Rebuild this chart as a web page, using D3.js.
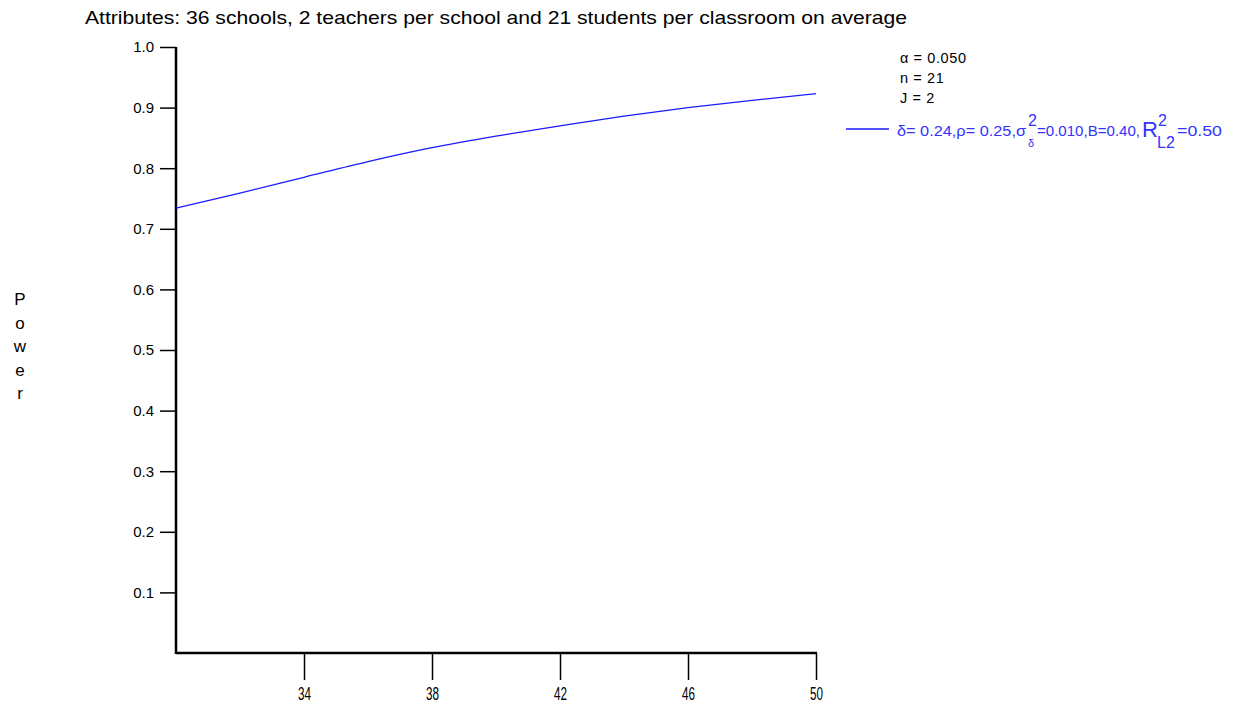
<!DOCTYPE html>
<html>
<head>
<meta charset="utf-8">
<script src="https://cdn.jsdelivr.net/npm/d3@7"></script>
<style>
  html, body { margin: 0; padding: 0; background: #fff; }
  svg { display: block; font-family: "Liberation Sans", Arial, sans-serif; }
</style>
</head>
<body>
<svg id="chart" width="1233" height="709"></svg>
<script>
// ---- data ----
const schools = [30, 32, 34, 36, 38, 40, 42, 44, 46, 48, 50];
const power   = [0.734, 0.759, 0.785, 0.811, 0.834, 0.853, 0.870, 0.886, 0.900, 0.912, 0.923];
const yTicks  = [0.1, 0.2, 0.3, 0.4, 0.5, 0.6, 0.7, 0.8, 0.9, 1.0];
const xTicks  = [34, 38, 42, 46, 50];
const titleText = "Attributes: 36 schools, 2 teachers per school and 21 students per classroom on average";
const yLabel = "Power";
const infoLines = ["\u03b1 = 0.050", "n = 21", "J = 2"];

const FONT = "Liberation Sans, Arial, sans-serif";
const svg = d3.select("#chart");
const x = d3.scaleLinear().domain([30, 50]).range([176, 816]);
const y = d3.scaleLinear().domain([0, 1]).range([653, 47]);

// title
svg.append("text").attr("x", 85).attr("y", 24)
  .attr("font-size", 19).attr("fill", "#000")
  .attr("textLength", 822).attr("lengthAdjust", "spacingAndGlyphs")
  .text(titleText);

// y axis
const yAxis = d3.axisLeft(y).tickValues(yTicks).tickSize(16).tickPadding(6)
  .tickFormat(d3.format(".1f"));
const gy = svg.append("g").attr("transform", "translate(176,0)").call(yAxis);
gy.attr("font-size", null).attr("font-family", null);
gy.select(".domain").remove();
gy.selectAll(".tick line").attr("stroke", "#000").attr("stroke-width", 1.5);
gy.selectAll(".tick text").style("font-size", "15px").style("font-family", FONT).attr("fill", "#000");

// x axis
const xAxis = d3.axisBottom(x).tickValues(xTicks).tickSize(27).tickPadding(7)
  .tickFormat(d3.format("d"));
const gx = svg.append("g").attr("transform", "translate(0,653)").call(xAxis);
gx.attr("font-size", null).attr("font-family", null);
gx.select(".domain").remove();
gx.selectAll(".tick line").attr("stroke", "#000").attr("stroke-width", 1.5);
gx.selectAll(".tick text").style("font-size", "18px").style("font-family", FONT).attr("fill", "#000")
  .attr("dy", "0.72em")
  .attr("textLength", 13).attr("lengthAdjust", "spacingAndGlyphs");

// axis frame lines
svg.append("line").attr("x1", x(30)).attr("x2", x(30)).attr("y1", y(1)).attr("y2", y(0) + 1)
  .attr("stroke", "#000").attr("stroke-width", 2.5);
svg.append("line").attr("x1", x(30)).attr("x2", x(50) + 1).attr("y1", y(0)).attr("y2", y(0))
  .attr("stroke", "#000").attr("stroke-width", 2.5);

// y label (stacked letters)
svg.append("g").selectAll("text").data(yLabel.split("")).join("text")
  .attr("x", 20).attr("y", (d, i) => 305 + i * 23.5)
  .attr("text-anchor", "middle").attr("font-size", 17).attr("fill", "#000")
  .text(d => d);

// curve
const line = d3.line().x((d, i) => x(schools[i])).y(d => y(d)).curve(d3.curveMonotoneX);
svg.append("path").datum(power).attr("d", line)
  .attr("fill", "none").attr("stroke", "#1a1aff").attr("stroke-width", 1.3);

// info text
svg.append("g").selectAll("text").data(infoLines).join("text")
  .attr("x", 900).attr("y", (d, i) => 63 + i * 20)
  .attr("font-size", 14.5).attr("letter-spacing", 0.6).attr("fill", "#000").text(d => d);

// legend line + label
const blue = "#3333ff";
svg.append("line").attr("x1", 846).attr("x2", 889).attr("y1", 129).attr("y2", 129)
  .attr("stroke", "#1a1aff").attr("stroke-width", 1.3);
const lg = svg.append("g").attr("fill", blue);
lg.append("text").attr("x", 897).attr("y", 136).attr("font-size", 15.5)
  .attr("textLength", 129).attr("lengthAdjust", "spacingAndGlyphs")
  .text("\u03b4= 0.24,\u03c1= 0.25,\u03c3");
lg.append("text").attr("x", 1028).attr("y", 126).attr("font-size", 16).text("2");
lg.append("text").attr("x", 1028).attr("y", 147).attr("font-size", 11).text("\u03b4");
lg.append("text").attr("x", 1037).attr("y", 136).attr("font-size", 15.5)
  .attr("textLength", 103).attr("lengthAdjust", "spacingAndGlyphs")
  .text("=0.010,B=0.40,");
lg.append("text").attr("x", 1142).attr("y", 137).attr("font-size", 22).text("R");
lg.append("text").attr("x", 1158).attr("y", 126).attr("font-size", 16).text("2");
lg.append("text").attr("x", 1157).attr("y", 148).attr("font-size", 16).text("L2");
lg.append("text").attr("x", 1177).attr("y", 136).attr("font-size", 15.5)
  .attr("textLength", 45).attr("lengthAdjust", "spacingAndGlyphs")
  .text("=0.50");
</script>
</body>
</html>
